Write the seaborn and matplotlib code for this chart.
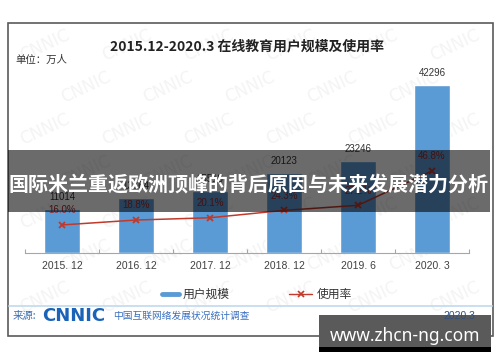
import numpy as np
import pandas as pd
import matplotlib
matplotlib.use("Agg")
import matplotlib.pyplot as plt
import seaborn as sns
from matplotlib.patches import Rectangle
from matplotlib.lines import Line2D

# ---- data ----
periods = ["2015. 12", "2016. 12", "2017. 12", "2018. 12", "2019. 6", "2020. 3"]
users = [11014, 13764, 15518, 20123, 23246, 42296]
rates = [16.0, 18.8, 20.1, 24.3, 27.2, 46.8]
title_text = "2015.12-2020.3 在线教育用户规模及使用率"
unit_text = "单位：万人"
legend_labels = ["用户规模", "使用率"]
banner_text = "国际米兰重返欧洲顶峰的背后原因与未来发展潜力分析"
source_label = "来源:"
source_logo = "CNNIC"
source_desc = "中国互联网络发展状况统计调查"
source_date = "2020.3"
site_text = "www.zhcn-ng.com"

BLUE = "#5B9BD5"
RED = "#C0392B"

sns.set_theme(style="white")
plt.rcParams['font.family'] = ['Noto Sans CJK SC', 'DejaVu Sans']

W, H = 500, 362
fig = plt.figure(figsize=(5, 3.62), dpi=100)
fig.patch.set_facecolor("white")


def fx(x):
    return x / W


def fy(y):
    return 1 - y / H


# faint background watermark (kept inside the frame)
for row, yy in enumerate(range(45, 300, 42)):
    off = 0 if row % 2 == 0 else 41
    for xx in range(45 + off, 470, 82):
        fig.text(fx(xx), fy(yy), "CNNIC", fontsize=12, color="#f4f4f4",
                 rotation=25, ha="center", va="center", zorder=-1,
                 family="DejaVu Sans")

df = pd.DataFrame({"period": periods, "users": users, "rate": rates})

ax = fig.add_axes([fx(25), fy(253), fx(469) - fx(25), fy(75) - fy(253)])
ax.set_facecolor("none")
sns.barplot(data=df, x="period", y="users", color=BLUE, saturation=1,
            width=36 / 74, ax=ax)
ax.set_xlim(-0.5, 5.5)
ax.set_ylim(0, 44800)
ax.bar_label(ax.containers[0], labels=[str(v) for v in users], padding=5,
             fontsize=7, color="#333333", family="Liberation Sans")

ax2 = ax.twinx()
sns.pointplot(data=df, x="period", y="rate", color=RED, markers="x",
              linestyles="-", errorbar=None, ax=ax2,
              linewidth=1.1, markersize=5, markeredgewidth=1.3)
ax2.set_xlim(-0.5, 5.5)
ax2.set_ylim(0, 101.5)
for i, r in enumerate(rates):
    ax2.annotate(f"{r:.1f}%", (i, r), xytext=(0, 10.5), textcoords="offset points",
                 ha="center", va="center", fontsize=7, color="#9E2A2B",
                 family="Liberation Sans")

for a in (ax, ax2):
    a.set_xlabel("")
    a.set_ylabel("")
    a.set_yticks([])
    for s in ("left", "right", "top"):
        a.spines[s].set_visible(False)
ax2.spines["bottom"].set_visible(False)
ax.spines["bottom"].set_color("#A6A6A6")
ax.spines["bottom"].set_linewidth(0.8)
ax.tick_params(axis="x", which="major", length=0, pad=6, labelsize=7.5,
               labelcolor="#404040")
for lab in ax.get_xticklabels():
    lab.set_family("Liberation Sans")
ax.set_xticks(np.arange(-0.5, len(periods), 1), minor=True)
ax.tick_params(axis="x", which="minor", bottom=True, direction="in", length=3,
               width=0.8, color="#A6A6A6")
ax2.tick_params(axis="x", which="both", length=0, labelbottom=False, bottom=False)

# titles
fig.text(fx(247), fy(47), title_text, fontsize=10, weight="bold",
         ha="center", va="center", color="#222222")
fig.text(fx(15), fy(60), unit_text, fontsize=7.5, ha="left", va="center",
         color="#333333")

# legend
fig.add_artist(Line2D([fx(162), fx(179)], [fy(294)] * 2, color=BLUE, lw=3.5,
                      transform=fig.transFigure))
fig.text(fx(183), fy(294), legend_labels[0], fontsize=8.5, ha="left",
         va="center", color="#333333")
fig.add_artist(Line2D([fx(289), fx(312)], [fy(294)] * 2, color=RED, lw=1,
                      transform=fig.transFigure))
fig.add_artist(Line2D([fx(300.5)], [fy(294)], color=RED, marker="x", ms=5,
                      mew=1.2, transform=fig.transFigure))
fig.text(fx(317), fy(294), legend_labels[1], fontsize=8.5, ha="left",
         va="center", color="#333333")

# separator and frame
fig.add_artist(Line2D([fx(9), fx(492)], [fy(306)] * 2, color="#C5DCEF", lw=1.3,
                      transform=fig.transFigure))
fig.add_artist(Rectangle((fx(8), fy(336)), fx(493) - fx(8), fy(23) - fy(336),
                         fill=False, ec="#5a5a5a", lw=1.2,
                         transform=fig.transFigure))

# footer
fig.text(fx(13), fy(316), source_label, fontsize=7.5, ha="left", va="center",
         color="#3C6FB0")
fig.text(fx(42), fy(316), source_logo, fontsize=13, weight="heavy", ha="left",
         va="center", color="#1A63B8", family="DejaVu Sans")
fig.text(fx(113), fy(316), source_desc, fontsize=7, ha="left", va="center",
         color="#3A70C0")

# overlay banner
fig.add_artist(Rectangle((fx(8), fy(212)), fx(490) - fx(8), fy(150) - fy(212),
                         fc="black", alpha=0.58, ec="none", zorder=5,
                         transform=fig.transFigure))
fig.text(fx(249), fy(184), banner_text, fontsize=14.4, weight="bold",
         ha="center", va="center", color="white", zorder=6)

# site watermark box
fig.add_artist(Rectangle((fx(319), fy(347)), fx(491) - fx(319), fy(315) - fy(347),
                         fc="#5a5a5a", ec="none", zorder=5,
                         transform=fig.transFigure))
fig.add_artist(Rectangle((fx(319), fy(352)), fx(491) - fx(319), fy(347) - fy(352),
                         fc="black", ec="none", zorder=5,
                         transform=fig.transFigure))
fig.text(fx(405), fy(336), site_text, fontsize=12.5, weight="bold",
         ha="center", va="center", color="white", zorder=6, family="Noto Sans")
fig.text(fx(475), fy(316), source_date, fontsize=7.5, ha="right", va="center",
         color="#2F4F7F", zorder=7, family="Liberation Sans")

fig.savefig("out.png", dpi=100)
